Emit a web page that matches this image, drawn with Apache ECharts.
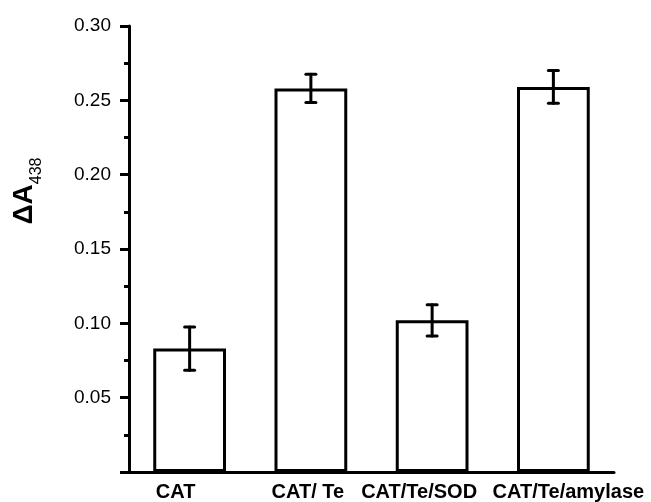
<!DOCTYPE html>
<html>
<head>
<meta charset="utf-8">
<script src="https://cdn.jsdelivr.net/npm/echarts@6/dist/echarts.min.js"></script>
<style>html,body{margin:0;padding:0;background:#fff;}#chart{width:651px;height:502px;}</style>
</head>
<body>
<div id="chart"></div>
<script>
const categories = ['CAT', 'CAT/ Te', 'CAT/Te/SOD', 'CAT/Te/amylase'];
const values = [0.083, 0.258, 0.102, 0.259];
const errors = [0.0145, 0.0095, 0.0105, 0.011];
const yMin = 0, yMax = 0.30, yStep = 0.05;

// label nudges (layout only): horizontal shift of each category label in px
const labelShift = [-14, -3, -13, 15];
const xAxisData = categories.map((c, i) => {
  const s = labelShift[i];
  return { value: c, textStyle: { padding: s < 0 ? [0, -2 * s, 0, 0] : [0, 0, 0, 2 * s] } };
});

const chart = echarts.init(document.getElementById('chart'));
chart.setOption({
  animation: false,
  backgroundColor: '#fff',
  grid: { left: 129, right: 37, top: 26, bottom: 29, containLabel: false },
  xAxis: {
    type: 'category',
    data: xAxisData,
    axisLine: { lineStyle: { color: '#000', width: 3 } },
    axisTick: { alignWithLabel: true, length: 6, lineStyle: { color: '#000', width: 3 } },
    axisLabel: { color: '#000', fontFamily: 'Liberation Sans, Arial, sans-serif', fontWeight: 'bold', fontSize: 20, margin: 10, interval: 0 }
  },
  yAxis: {
    type: 'value',
    min: yMin, max: yMax, interval: yStep,
    name: '{a|ΔA}{b|438}',
    nameLocation: 'middle',
    nameGap: 84,
    nameTextStyle: {
      padding: [0, 0, 0, 116],
      rich: {
        a: { fontFamily: 'Liberation Sans, Arial, sans-serif', fontWeight: 'bold', fontSize: 28, color: '#000', verticalAlign: 'middle', lineHeight: 42 },
        b: { fontFamily: 'Liberation Sans, Arial, sans-serif', fontSize: 16, color: '#000', verticalAlign: 'bottom', lineHeight: 42 }
      }
    },
    axisLine: { show: true, lineStyle: { color: '#000', width: 3 } },
    axisTick: { show: true, length: 9, lineStyle: { color: '#000', width: 3 } },
    minorTick: { show: true, splitNumber: 2, length: 5, lineStyle: { color: '#000', width: 3 } },
    splitLine: { show: false },
    axisLabel: {
      color: '#000', fontFamily: 'Liberation Sans, Arial, sans-serif', fontSize: 19, margin: 18,
      formatter: v => (v === 0 ? '' : v.toFixed(2))
    }
  },
  series: [
    {
      type: 'bar',
      data: values,
      barWidth: '60%',
      itemStyle: { color: '#fff', borderColor: '#000', borderWidth: 3 }
    },
    {
      type: 'custom',
      data: values.map((v, i) => [i, v - errors[i], v + errors[i]]),
      renderItem: (params, api) => {
        const lo = api.coord([api.value(0), api.value(1)]);
        const hi = api.coord([api.value(0), api.value(2)]);
        const hw = 5;
        const style = { stroke: '#000', lineWidth: 3, lineCap: 'round' };
        return {
          type: 'group',
          children: [
            { type: 'line', shape: { x1: lo[0], y1: lo[1], x2: hi[0], y2: hi[1] }, style },
            { type: 'line', shape: { x1: lo[0] - hw, y1: lo[1], x2: lo[0] + hw, y2: lo[1] }, style },
            { type: 'line', shape: { x1: hi[0] - hw, y1: hi[1], x2: hi[0] + hw, y2: hi[1] }, style }
          ]
        };
      },
      z: 10
    }
  ]
});
</script>
</body>
</html>
